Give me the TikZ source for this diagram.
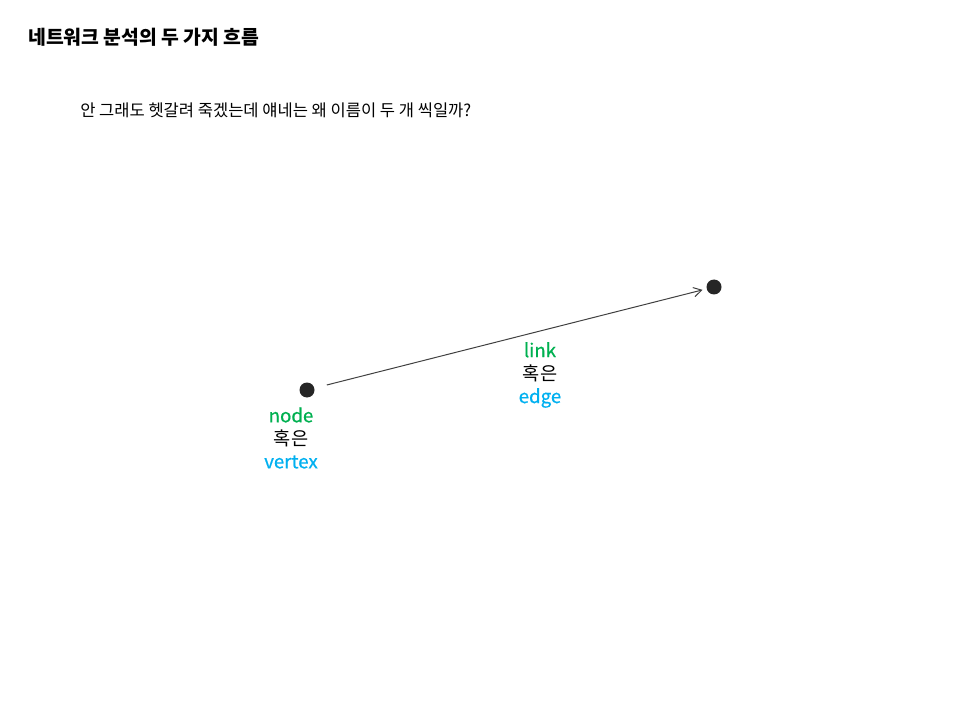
\documentclass[tikz,border=0pt]{standalone}
\usepackage{fontspec}
\setmainfont{Noto Sans CJK KR}
\usetikzlibrary{arrows.meta}
\definecolor{dotc}{HTML}{262626}
\definecolor{linec}{HTML}{404040}
\definecolor{greenc}{HTML}{00B050}
\definecolor{bluec}{HTML}{00B0F0}
\tikzset{
  px/.style={x=0.75pt,y=-0.75pt},
  dotnode/.style={circle,fill=dotc,draw=none,minimum size=11.25pt,inner sep=0pt},
  lbl/.style={align=center,inner sep=0pt,font=\fontsize{14}{17.25}\selectfont},
  edgeline/.style={draw=linec,line width=0.75pt,-{Straight Barb[length=6pt,width=7pt]},shorten <=9.5pt,shorten >=3pt}
}
\newcommand{\gw}[1]{\textcolor{greenc}{\addfontfeature{FakeBold=0.6}#1}}
\newcommand{\bw}[1]{\textcolor{bluec}{\addfontfeature{FakeBold=0.6}#1}}
\begin{document}
\begin{tikzpicture}[px]
\useasboundingbox (0,0) rectangle (960,720);
\node[anchor=west,inner sep=0pt,font=\fontsize{14.5}{17}\selectfont\bfseries] (title) at (28,37) {네트워크 분석의 두 가지 흐름};
\node[anchor=west,inner sep=0pt,font=\fontsize{12.4}{15}\selectfont] (sub) at (80,110) {안 그래도 헷갈려 죽겠는데 얘네는 왜 이름이 두 개 씩일까?};
\node[dotnode] (a) at (307,390) {};
\node[dotnode] (b) at (714,287) {};
\draw[edgeline] (a) -- (b);
\node[lbl] (alabel) at (291,438) {\gw{node}\\혹은\\\bw{vertex}};
\node[lbl] (blabel) at (540,375) {\gw{link}\\혹은\\\bw{edge}};
\end{tikzpicture}
\end{document}
